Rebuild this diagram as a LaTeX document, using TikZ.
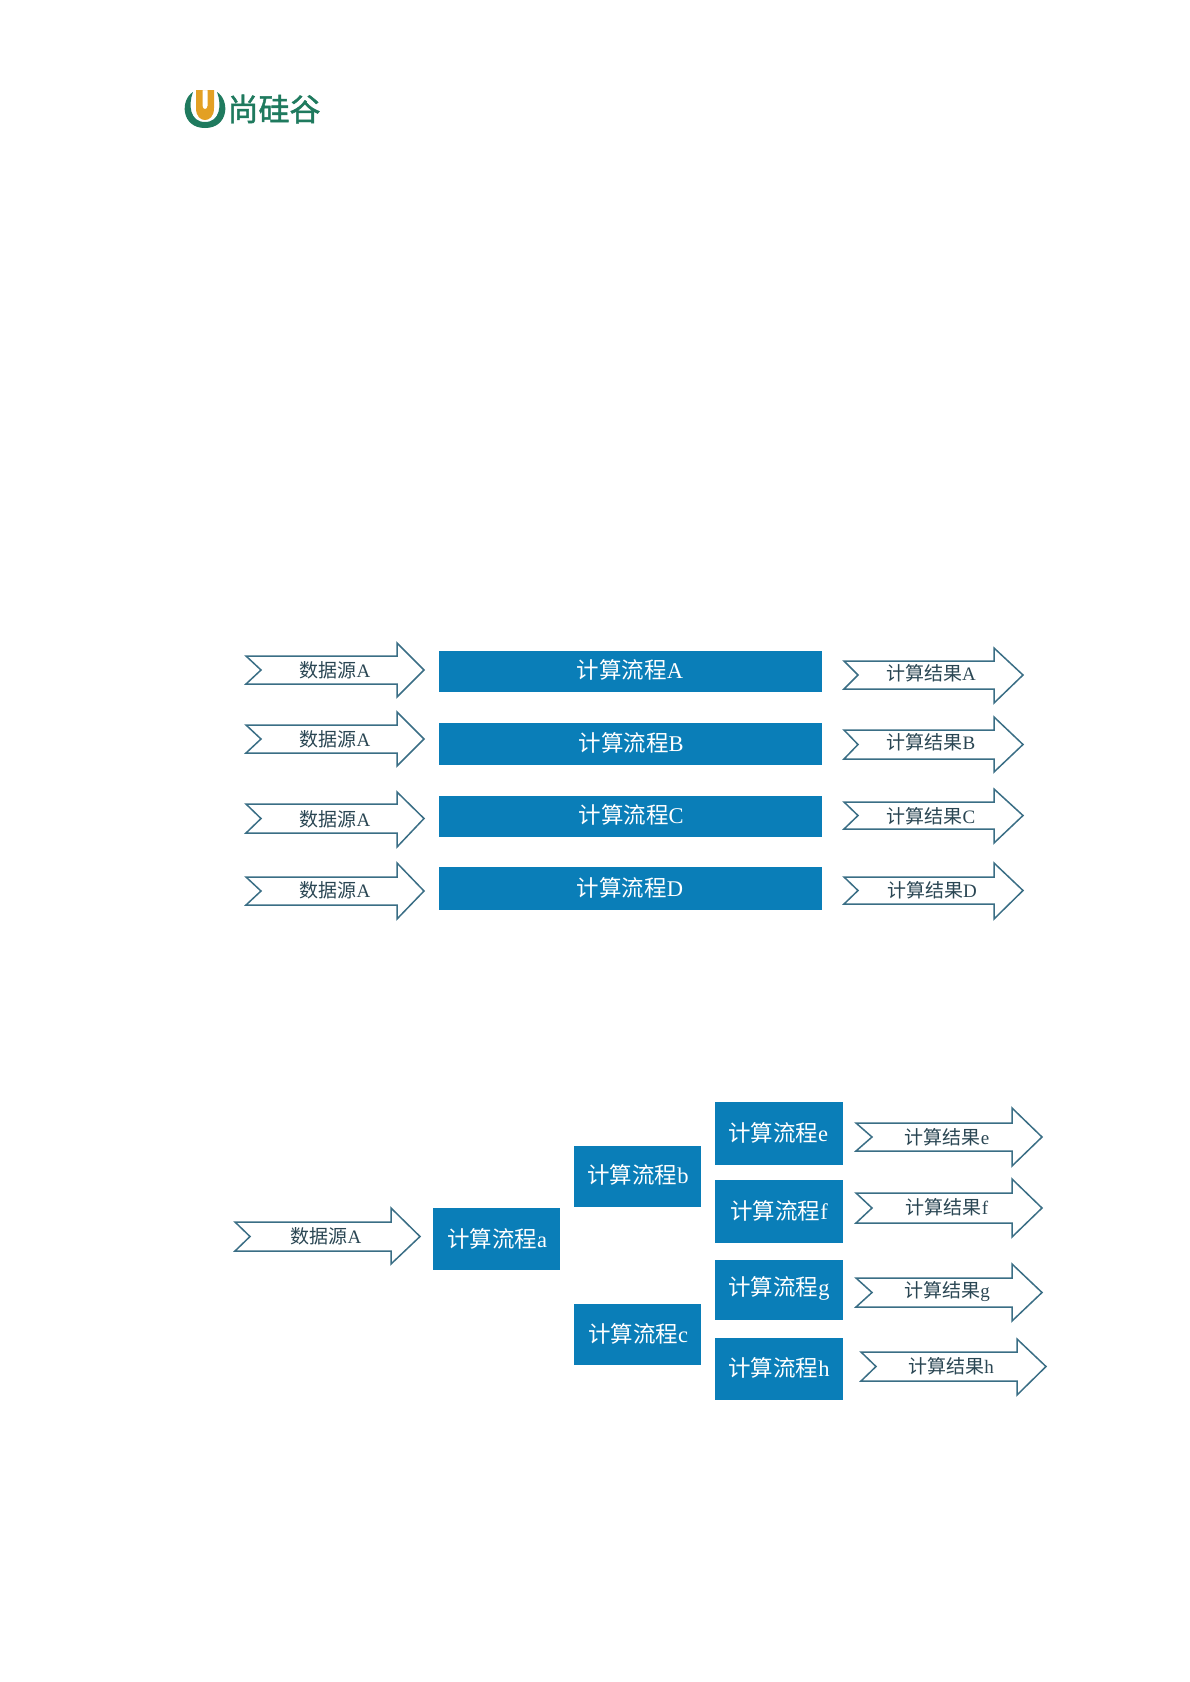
\documentclass[tikz,border=0pt]{standalone}
\usepackage{fontspec}
\setmainfont{Liberation Serif}
\newfontfamily\cjk{Noto Sans CJK SC}
\newfontfamily\cjklogo{Noto Sans CJK SC}[FakeBold=1.5]
\definecolor{barblue}{HTML}{0A7EB8}
\definecolor{arrowline}{HTML}{3A6E85}
\definecolor{arrowtext}{HTML}{2A4653}
\definecolor{logogreen}{HTML}{1F7A5E}
\definecolor{logoyellow}{HTML}{E3A024}
\newcommand{\lab}[2]{{\cjk #1}#2}
% name, left, notch, base, tip, head top, shaft top, shaft bottom, head bottom
\newcommand{\chev}[9]{%
  \draw[chevline] (#2,#7) -- (#4,#7) -- (#4,#6) -- (#5,{(#7+#8)/2}) -- (#4,#9) -- (#4,#8) -- (#2,#8) -- (#3,{(#7+#8)/2}) -- cycle;
  \coordinate (#1) at (#3,{(#7+#8)/2});
}
\tikzset{
  chevline/.style={draw=arrowline,fill=white,line width=1.5pt,line join=miter},
  chevtext/.style={text=arrowtext,inner sep=0pt,font=\fontsize{19}{22}\selectfont},
  proctext/.style={text=white,inner sep=0pt,font=\fontsize{22.5}{26}\selectfont},
}
\begin{document}
\begin{tikzpicture}[x=1pt,y=-1pt]
\useasboundingbox (0,0) rectangle (1190,1682);
% logo
\fill[logogreen] (193,92) .. controls (180,100) and (181,128) .. (205,128) .. controls (229,128) and (230,100) .. (217,92) .. controls (222,105) and (220,122) .. (205,122) .. controls (190,122) and (188,105) .. (193,92) -- cycle;
\fill[logoyellow,even odd rule] (196,90) -- (214,90) -- (214,108) .. controls (214,117) and (209,120) .. (205,120) .. controls (201,120) and (196,117) .. (196,108) -- cycle
  (202.5,90) -- (207.5,90) -- (207.5,106) .. controls (207.5,110) and (202.5,110) .. (202.5,106) -- cycle;
\node[inner sep=0pt,text=logogreen] (logo) at (274,109) {\fontsize{31}{32}\selectfont\cjklogo 尚硅谷};
% top diagram: sources
\chev{sa}{246}{261}{397}{424}{643}{656}{684}{697}
\chev{sb}{246}{261}{397}{424}{712}{725}{753}{766}
\chev{sc}{246}{261}{397}{424}{792}{804}{833}{847}
\chev{sd}{246}{261}{397}{424}{863}{877}{905}{919}
\node[chevtext] (tsa) at (335,670) {\lab{数据源}{A}};
\node[chevtext] (tsb) at (335,739) {\lab{数据源}{A}};
\node[chevtext] (tsc) at (335,819) {\lab{数据源}{A}};
\node[chevtext] (tsd) at (335,890) {\lab{数据源}{A}};
% top diagram: bars
\fill[barblue] (439,651) rectangle (822,692);
\fill[barblue] (439,723) rectangle (822,765);
\fill[barblue] (439,796) rectangle (822,837);
\fill[barblue] (439,867) rectangle (822,910);
\node[proctext] (pa) at (630,670) {\lab{计算流程}{A}};
\node[proctext] (pb) at (631,743) {\lab{计算流程}{B}};
\node[proctext] (pc) at (631,815) {\lab{计算流程}{C}};
\node[proctext] (pd) at (630,888) {\lab{计算流程}{D}};
% top diagram: results
\chev{ra}{844}{858}{994}{1023}{648}{661}{689}{703}
\chev{rb}{844}{858}{994}{1023}{717}{730}{759}{772}
\chev{rc}{844}{858}{994}{1023}{789}{802}{829}{843}
\chev{rd}{844}{858}{994}{1023}{863}{877}{904}{919}
\node[chevtext] (tra) at (931,673) {\lab{计算结果}{A}};
\node[chevtext] (trb) at (931,742) {\lab{计算结果}{B}};
\node[chevtext] (trc) at (931,816) {\lab{计算结果}{C}};
\node[chevtext] (trd) at (932,890) {\lab{计算结果}{D}};
% bottom diagram
\chev{s2}{235}{250}{391}{420}{1208}{1222}{1251}{1264}
\node[chevtext] (ts2) at (326,1236) {\lab{数据源}{A}};
\fill[barblue] (433,1208) rectangle (560,1270);
\fill[barblue] (574,1146) rectangle (701,1207);
\fill[barblue] (574,1304) rectangle (701,1365);
\fill[barblue] (715,1102) rectangle (843,1165);
\fill[barblue] (715,1180) rectangle (843,1243);
\fill[barblue] (715,1260) rectangle (843,1320);
\fill[barblue] (715,1338) rectangle (843,1400);
\node[proctext] (qa) at (497,1239) {\lab{计算流程}{a}};
\node[proctext] (qb) at (638,1175) {\lab{计算流程}{b}};
\node[proctext] (qc) at (638,1334) {\lab{计算流程}{c}};
\node[proctext] (qe) at (778,1133) {\lab{计算流程}{e}};
\node[proctext] (qf) at (779,1211) {\lab{计算流程}{f}};
\node[proctext] (qg) at (779,1288) {\lab{计算流程}{g}};
\node[proctext] (qh) at (779,1368) {\lab{计算流程}{h}};
\chev{re}{856}{872}{1012}{1042}{1108}{1123}{1151}{1166}
\chev{rf}{856}{872}{1012}{1042}{1179}{1193}{1223}{1237}
\chev{rg}{856}{872}{1012}{1042}{1264}{1278}{1307}{1321}
\chev{rh}{861}{876}{1017}{1046}{1339}{1352}{1381}{1395}
\node[chevtext] (tre) at (947,1137) {\lab{计算结果}{e}};
\node[chevtext] (trf) at (947,1207) {\lab{计算结果}{f}};
\node[chevtext] (trg) at (947,1292) {\lab{计算结果}{g}};
\node[chevtext] (trh) at (951,1366) {\lab{计算结果}{h}};
\end{tikzpicture}
\end{document}
